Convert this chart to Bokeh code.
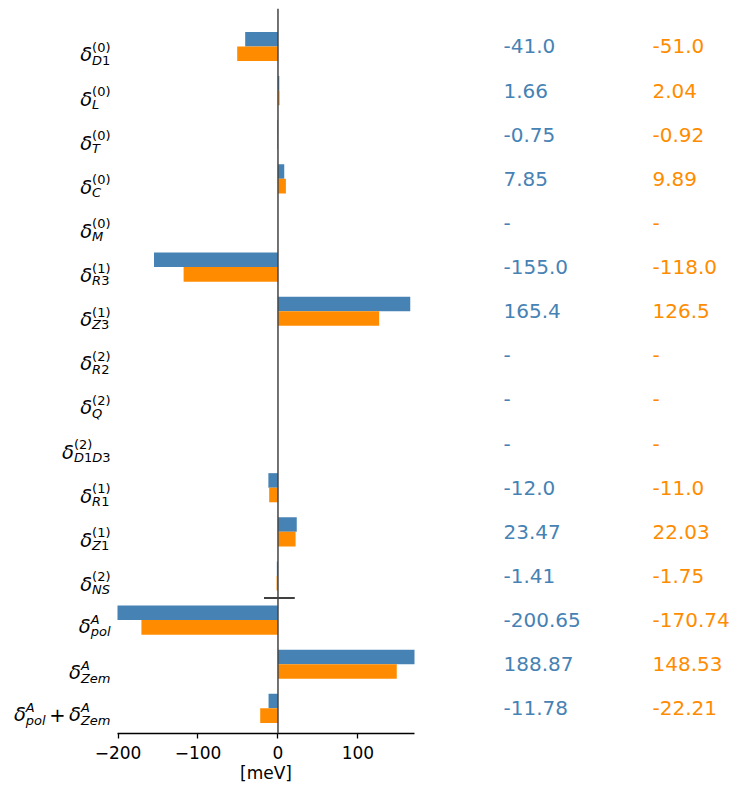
from bokeh.plotting import figure
from bokeh.models import (Range1d, Span, Label, FixedTicker, LinearAxis,
                          CustomJSTickFormatter)
from bokeh.embed import file_html
from bokeh.resources import INLINE

# Correction terms: superscript / subscript of each delta (rows top to bottom)
term_sup = ["(0)", "(0)", "(0)", "(0)", "(0)", "(1)", "(1)", "(2)", "(2)", "(2)",
            "(1)", "(1)", "(2)", "A", "A", "A"]
term_sub = ["D1", "L", "T", "C", "M", "R3", "Z3", "R2", "Q", "D1D3",
            "R1", "Z1", "NS", "pol", "Zem", "pol+Zem"]

# Values in meV (None = not available)
blue_vals = [-41.0, 1.66, -0.75, 7.85, None, -155.0, 165.4, None, None, None,
             -12.0, 23.47, -1.41, -200.65, 188.87, -11.78]
orange_vals = [-51.0, 2.04, -0.92, 9.89, None, -118.0, 126.5, None, None, None,
               -11.0, 22.03, -1.75, -170.74, 148.53, -22.21]

x_ticks = [-200, -100, 0, 100]
x_tick_labels = {-200: "\u2212200", -100: "\u2212100", 0: "0", 100: "100"}
axis_title = "[meV]"

BLUE = "#4682b4"
ORANGE = "#ff8c00"

# canvas / axis geometry (pixels); the frame spans the full width so the
# labels on both sides can be drawn inside it
W, H = 734, 785
AX_L, AX_R, FT, FB = 117, 414, 8, 734
X_MIN, X_MAX = -200.65, 170.7          # limits of the bar axis
Y_TOP, Y_BOT = -0.86, 15.57
PX_X = (AX_R - AX_L) / (X_MAX - X_MIN)
PX_Y = (FB - FT) / (Y_BOT - Y_TOP)


def xd(px):
    return X_MIN + (px - AX_L) / PX_X


def yd(row, dpx):
    return row + dpx / PX_Y


p = figure(width=W, height=H, output_backend="svg", toolbar_location=None,
           x_range=Range1d(xd(0), xd(W)), y_range=Range1d(Y_BOT, Y_TOP),
           y_axis_location=None, min_border_left=0, min_border_right=0,
           min_border_top=FT, min_border_bottom=H - FB)
p.outline_line_color = None
p.xgrid.visible = False
p.ygrid.visible = False
p.background_fill_color = "white"
p.border_fill_color = "white"

rows = list(range(len(term_sub)))
BAR_H = 0.33


def clip(v):
    # bars stop at the axis limits
    return max(X_MIN, min(X_MAX, v))


bl = [(r, v) for r, v in zip(rows, blue_vals) if v is not None]
ol = [(r, v) for r, v in zip(rows, orange_vals) if v is not None]
p.hbar(y=[r - BAR_H / 2 for r, _ in bl], height=BAR_H, left=0,
       right=[clip(v) for _, v in bl], fill_color=BLUE, line_color=None)
p.hbar(y=[r + BAR_H / 2 for r, _ in ol], height=BAR_H, left=0,
       right=[clip(v) for _, v in ol], fill_color=ORANGE, line_color=None)

# zero line and the separator before the totals
p.add_layout(Span(location=0, dimension="height", line_color="#444444",
                  line_width=1.5))
sep_row = term_sub.index("pol") - 0.5
p.segment(x0=[-17.5], x1=[21], y0=[sep_row], y1=[sep_row],
          line_color="black", line_width=1.5)

# x axis, limited to the bar region
TICK_FONT = "17px"
ax = p.xaxis[0]
ax.bounds = (X_MIN, X_MAX)
ax.ticker = FixedTicker(ticks=x_ticks)
ax.major_label_overrides = x_tick_labels
ax.minor_tick_line_color = None
ax.major_tick_in = 0
ax.major_tick_out = 5
ax.major_label_standoff = 7
ax.axis_line_width = 1.3
ax.major_tick_line_width = 1.3
ax.major_label_text_font = "DejaVu Sans"
ax.major_label_text_font_size = TICK_FONT
ax.major_label_text_color = "black"

# axis title, centred under the bar region
title_ax = LinearAxis(ticker=FixedTicker(ticks=[(X_MIN + X_MAX) / 2]),
                      formatter=CustomJSTickFormatter(code=f"return '{axis_title}'"),
                      axis_line_color=None, major_tick_line_color=None,
                      minor_tick_line_color=None, major_tick_in=0,
                      major_tick_out=0, major_label_standoff=1,
                      major_label_text_font="DejaVu Sans",
                      major_label_text_font_size=TICK_FONT,
                      major_label_text_color="black")
p.add_layout(title_ax, "below")

# value columns
VAL_FONT = "20px"
for r in rows:
    for vals, col, xpx in ((blue_vals, BLUE, 503), (orange_vals, ORANGE, 652)):
        v = vals[r]
        txt = "-" if v is None else str(v)
        p.add_layout(Label(x=xd(xpx), y=r, text=txt, text_color=col,
                           text_font="DejaVu Sans", text_font_size=VAL_FONT,
                           text_align="left", text_baseline="middle"))

# category labels: delta with stacked superscript / subscript
ADV = {'(': 0.390, ')': 0.390, 'D': 0.770, 'L': 0.557, 'T': 0.611, 'C': 0.698,
       'M': 0.863, 'R': 0.695, 'Z': 0.685, 'Q': 0.787, 'N': 0.748, 'S': 0.635,
       'A': 0.684, 'p': 0.635, 'o': 0.612, 'l': 0.278, 'e': 0.615, 'm': 0.974,
       '+': 0.838, '\u03b4': 0.612}
BASE = 19.5
SCRIPT = 13.0
SUP_UP = 7.5
SUB_DOWN = 5.3


def tw(s, size):
    return sum(ADV.get(c, 0.636) for c in s) * size


def runs(s):
    # letters italic, digits and brackets upright
    out = []
    for c in s:
        it = c.isalpha()
        if out and out[-1][1] == it:
            out[-1][0] += c
        else:
            out.append([c, it])
    return out


def put(x, y, text, size, italic):
    p.add_layout(Label(x=xd(x), y=y, text=text, text_color="black",
                       text_font="DejaVu Sans",
                       text_font_style="italic" if italic else "normal",
                       text_font_size=f"{size}px", text_align="left",
                       text_baseline="alphabetic"))


def put_script(x, y, s):
    for t, it in runs(s):
        put(x, y, t, SCRIPT, it)
        x += tw(t, SCRIPT)


LABEL_RIGHT = 110
OP_GAP = 3.5

for r in rows:
    atoms = [(term_sup[r], s) for s in term_sub[r].split("+")]
    widths = [tw("\u03b4", BASE) + max(tw(a, SCRIPT), tw(b, SCRIPT)) for a, b in atoms]
    total = sum(widths) + (len(atoms) - 1) * (2 * OP_GAP + tw("+", BASE))
    base_dy = 6.5 if any("p" in b for _, b in atoms) else 8.5
    x = LABEL_RIGHT - total
    for i, (sup, sub) in enumerate(atoms):
        if i > 0:
            x += OP_GAP
            put(x, yd(r, base_dy), "+", BASE, False)
            x += tw("+", BASE) + OP_GAP
        put(x, yd(r, base_dy), "\u03b4", BASE, True)
        x += tw("\u03b4", BASE)
        put_script(x, yd(r, base_dy - SUP_UP), sup)
        put_script(x, yd(r, base_dy + SUB_DOWN), sub)
        x += max(tw(sup, SCRIPT), tw(sub, SCRIPT))

open("out.html", "w").write(file_html(p, INLINE))
